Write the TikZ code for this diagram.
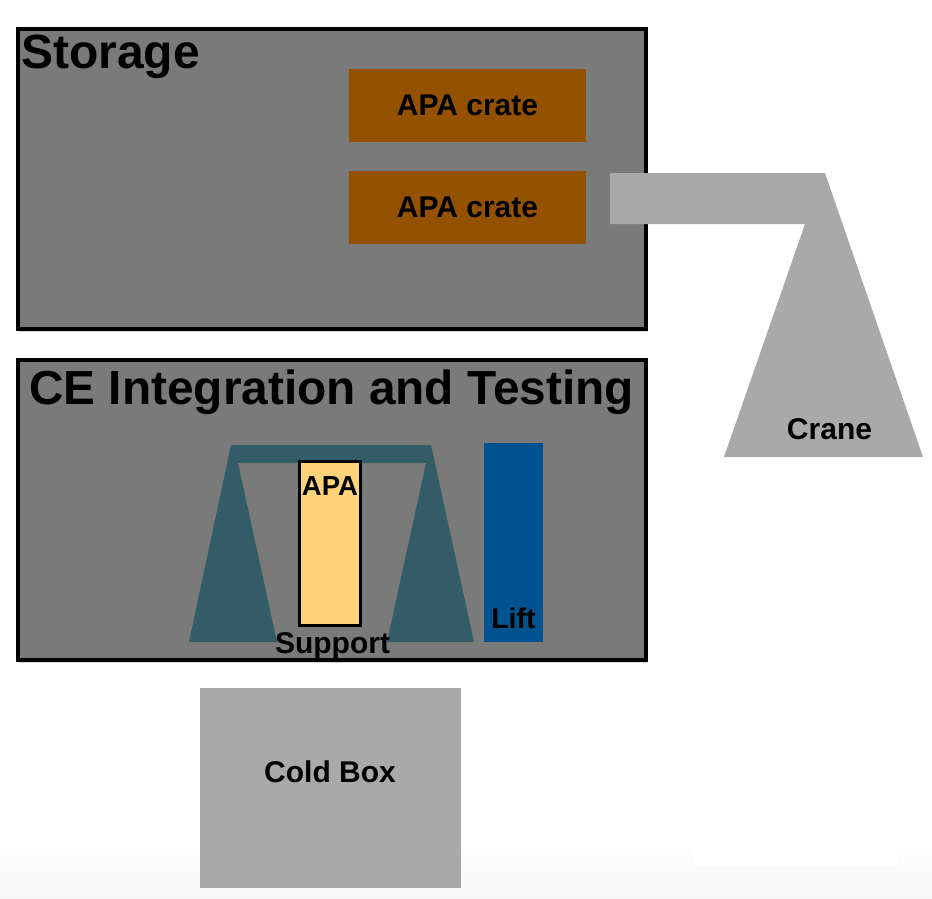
\documentclass[tikz,border=0pt]{standalone}
\usepackage{fontspec}
\setmainfont{Liberation Sans}
\usepackage{tikz}
\usetikzlibrary{positioning, shadows}
\definecolor{roomgray}{HTML}{7A7A7A}
\definecolor{cratebrown}{HTML}{945200}
\definecolor{lightgray}{HTML}{A9A9A9}
\definecolor{supportteal}{HTML}{335C67}
\definecolor{liftblue}{HTML}{00538F}
\definecolor{apayellow}{HTML}{FFD479}

\begin{document}
\begin{tikzpicture}[
            x=1pt, y=-1pt,
            room/.style={rectangle, draw=black, line width=4pt, fill=roomgray, minimum width=627.5pt,
                    drop shadow={opacity=0.3, shadow xshift=1pt, shadow yshift=-3pt}},
            crate/.style={rectangle, fill=cratebrown, minimum width=237pt, minimum height=73pt, inner sep=0pt, font=\fontsize{30}{32}\selectfont\bfseries},
            title/.style={inner sep=0pt, font=\fontsize{48}{50}\selectfont\bfseries},
            lbl/.style={inner sep=0pt, font=\fontsize{30}{32}\selectfont\bfseries}
        ]
        \useasboundingbox (0,0) rectangle (932,898);
        \shade[top color=white, bottom color=gray!6] (0,835) rectangle (932,898);
        \fill[white] (693,838) rectangle (897,866);

        % Storage
        \node[room, minimum height=300pt] (storage) at (331.75,179) {};
        \node[title, anchor=base west] (storagelbl) at (21,68) {Storage};
        \node[crate] (crate1) at (467.5,105.5) {APA crate};
        \node[crate] (crate2) at (467.5,207.5) {APA crate};

        % Crane
        \fill[lightgray] (610,173) -- (825,173) -- (923,457) -- (724,457) -- (805,224) -- (610,224) -- cycle;
        \node[lbl, anchor=base] (cranelbl) at (829.5,439) {Crane};

        % CE integration and testing
        \node[room, minimum height=299.5pt] (ce) at (331.75,509.75) {};
        \node[title, font=\fontsize{47.8}{50}\selectfont\bfseries, anchor=base west] (celbl) at (29,404) {CE Integration and Testing};
        \fill[supportteal] (231,445) -- (431,445) -- (474,642) -- (387,642) -- (426,463)
            -- (238,463) -- (277,642) -- (189,642) -- cycle;
        \node[lbl, anchor=base] (supportlbl) at (332.5,653) {Support};
        \node[rectangle, draw=black, line width=3pt, fill=apayellow, minimum width=61pt, minimum height=164pt, inner sep=0pt] (apa) at (330,543.5) {};
        \node[lbl, font=\fontsize{27.5}{29}\selectfont\bfseries, below=16.5pt of apa.north] (apalbl) {APA};
        \node[rectangle, fill=liftblue, minimum width=59pt, minimum height=199pt, inner sep=0pt] (lift) at (513.5,542.5) {};
        \node[lbl, font=\fontsize{28.6}{30}\selectfont\bfseries, above=13pt of lift.south] (liftlbl) {Lift};

        % Cold box
        \node[rectangle, fill=lightgray, minimum width=261pt, minimum height=200pt, inner sep=0pt] (coldbox) at (330,788) {};
        \node[lbl, anchor=base] (coldlbl) at (330,782) {Cold Box};
    \end{tikzpicture}
\end{document}
